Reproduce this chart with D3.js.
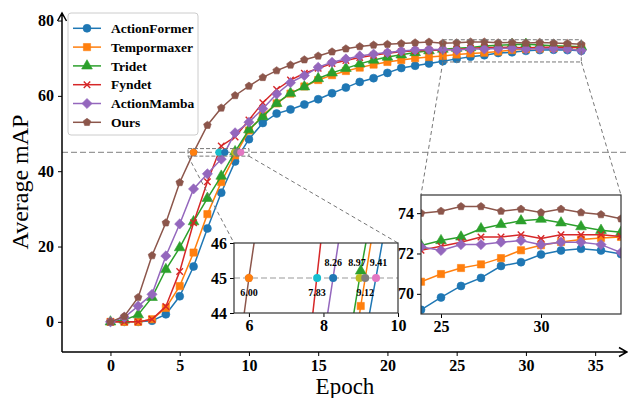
<!DOCTYPE html>
<html>
<head>
<meta charset="utf-8">
<script src="https://cdn.jsdelivr.net/npm/d3@7"></script>
<style>
  body { margin: 0; background: #fff; }
  text { font-family: "Liberation Serif", "Times New Roman", serif; }
</style>
</head>
<body>
<div id="chart"></div>
<script>
'use strict'
// data read off the picture
const epochs = [0,1,2,3,4,5,6,7,8,9,10,11,12,13,14,15,16,17,18,19,20,21,22,23,24,25,26,27,28,29,30,31,32,33,34]
const actionFormer = [0,0,0,0.3,2.0,6.8,14.7,24.8,34.3,42.6,48.5,52.8,55.3,56.4,57.7,59.1,60.7,62.2,63.7,64.7,66.1,67.4,68.0,68.6,69.21,69.82,70.39,70.79,71.38,71.57,71.95,72.15,72.23,72.15,71.97]
const tempormaxer = [0,0,0,0.7,3.7,9.5,18.4,28.6,37.1,44.2,50.8,54.8,58.0,60.6,62.5,64.2,65.5,66.6,67.5,68.3,69.0,69.5,70.0,70.3,70.6,70.98,71.28,71.46,71.77,72.16,72.41,72.57,72.69,72.77,72.82]
const tridet = [0,0.5,1.9,6.5,13.9,19.7,26.6,32.8,38.7,45.2,51.0,54.5,58.0,60.7,62.4,64.6,66.1,67.3,68.5,69.5,70.3,70.9,71.5,72.0,72.4,72.64,72.82,73.23,73.44,73.62,73.7,73.52,73.33,73.15,73.05]
const fyndet = [0,0,0,0.7,4.1,13.4,26.3,37.2,46.7,49.1,53.6,58.2,61.7,64.2,66.0,67.3,68.6,69.4,70.2,70.8,71.3,71.7,72.0,72.1,72.16,72.36,72.56,72.82,72.82,72.93,72.74,72.93,72.93,72.93,72.84]
const actionMamba = [0,1.2,4.2,7.3,17.5,26.0,35.3,39.3,43.2,50.2,53.0,56.6,60.5,63.5,65.4,67.6,68.9,69.8,70.6,71.1,71.5,71.9,72.2,72.3,72.33,72.15,72.44,72.44,72.56,72.64,72.44,72.56,72.56,72.44,72.05]
const ours = [0,1.5,6.5,17.6,26.3,37.0,45.0,52.2,56.8,60.1,62.6,64.9,66.7,68.2,69.6,70.6,71.7,72.5,73.1,73.5,73.7,73.9,74.1,74.3,74.0,74.1,74.33,74.33,74.1,74.2,74.03,74.2,74.03,73.93,73.72]

const seriesNames = ['ActionFormer', 'Tempormaxer', 'Tridet', 'Fyndet', 'ActionMamba', 'Ours']
const seriesValues = [actionFormer, tempormaxer, tridet, fyndet, actionMamba, ours]

// epochs where each curve reaches 45 mAP
const threshold = 45
const crossEpochs = [6.00, 7.83, 8.26, 8.97, 9.12, 9.41]
const crossAbove = [false, false, true, true, false, true]

const xTicks = [0, 5, 10, 15, 20, 25, 30, 35]
const yTicks = [0, 20, 40, 60, 80]
const zoom1 = {x: [5.6, 10.0], y: [44, 46], xTicks: [6, 8, 10], yTicks: [44, 45, 46]}
const zoom2 = {x: [24, 34], y: [69, 74.9], xTicks: [25, 30], yTicks: [70, 72, 74]}

/*
  styles
*/
const colors = ['#1f77b4', '#ff7f0e', '#2ca02c', '#d62728', '#9467bd', '#8c564b']
const markers = ['circle', 'square', 'triangle', 'x', 'diamond', 'pentagon']
const crossColors = ['#ff7f0e', '#17becf', '#1f77b4', '#bcbd22', '#7f7f7f', '#e377c2']
// nudges so the two crowded labels do not collide
const labelNudge = [0, 0, 0, -2.5, 0, 2.5]

let width = 628
let height = 398

const diamondSym = {
  draw(c, size) {
    const r = Math.sqrt(size / 2)
    c.moveTo(0, -r); c.lineTo(r, 0); c.lineTo(0, r); c.lineTo(-r, 0); c.closePath()
  }
}
const pentagonSym = {
  draw(c, size) {
    const r = Math.sqrt(size / 2.378)
    for (let i = 0; i < 5; ++i) {
      const a = -Math.PI / 2 + i * 2 * Math.PI / 5
      if (i == 0) c.moveTo(r * Math.cos(a), r * Math.sin(a))
      else c.lineTo(r * Math.cos(a), r * Math.sin(a))
    }
    c.closePath()
  }
}
const crossSym = {
  draw(c, size) {
    const r = Math.sqrt(size) / 2
    c.moveTo(-r, -r); c.lineTo(r, r); c.moveTo(r, -r); c.lineTo(-r, r)
  }
}
function markerPath(kind) {
  if (kind == 'circle') return d3.symbol().type(d3.symbolCircle).size(50)()
  if (kind == 'square') return d3.symbol().type(d3.symbolSquare).size(52)()
  if (kind == 'triangle') return d3.symbol().type(d3.symbolTriangle).size(50)()
  if (kind == 'x') return d3.symbol().type(crossSym).size(42)()
  if (kind == 'diamond') return d3.symbol().type(diamondSym).size(52)()
  return d3.symbol().type(pentagonSym).size(38)()
}

const svg = d3.select('#chart').append('svg')
  .attr('width', width)
  .attr('height', height)

const x = d3.scaleLinear().domain([-3.5, 37.3]).range([62, 627])
const y = d3.scaleLinear().domain([-8, 82]).range([352, 13])

function drawSeries(g, sx, sy) {
  seriesValues.forEach((vals, i) => {
    const pts = epochs.map((e, j) => [e, vals[j]])
    g.append('path')
      .attr('d', d3.line().x(d => sx(d[0])).y(d => sy(d[1]))(pts))
      .attr('fill', 'none')
      .attr('stroke', colors[i])
      .attr('stroke-width', 1.5)
    const isX = markers[i] == 'x'
    g.selectAll(null)
      .data(pts)
      .enter()
      .append('path')
      .attr('d', markerPath(markers[i]))
      .attr('transform', d => 'translate(' + sx(d[0]) + ',' + sy(d[1]) + ')')
      .attr('fill', isX ? 'none' : colors[i])
      .attr('stroke', colors[i])
      .attr('stroke-width', isX ? 1.4 : 0.6)
  })
}

function drawCrossDots(g, sx, sy, r) {
  g.selectAll(null)
    .data(crossEpochs)
    .enter()
    .append('circle')
    .attr('cx', d => sx(d))
    .attr('cy', sy(threshold))
    .attr('r', r)
    .attr('fill', (d, i) => crossColors[i])
}

function styleTicks(a, size) {
  a.select('.domain').remove()
  a.selectAll('line').attr('stroke', '#000').attr('stroke-width', 1)
  a.selectAll('text')
    .attr('font-family', '"Liberation Serif", serif')
    .attr('font-weight', 'bold')
    .attr('font-size', size)
    .attr('fill', '#000')
}

// main curves
const main = svg.append('g')
drawSeries(main, x, y)

main.append('line')
  .attr('x1', 62).attr('x2', 627)
  .attr('y1', y(threshold)).attr('y2', y(threshold))
  .attr('stroke', '#999')
  .attr('stroke-width', 1.2)
  .attr('stroke-dasharray', '6,3')
drawCrossDots(main, x, y, 3.6)

// axes
const yAxis = svg.append('g')
  .attr('transform', 'translate(62,0)')
  .call(d3.axisLeft(y).tickValues(yTicks).tickSize(4).tickPadding(4).tickSizeOuter(0))
const xAxis = svg.append('g')
  .attr('transform', 'translate(0,352)')
  .call(d3.axisBottom(x).tickValues(xTicks).tickSize(4).tickPadding(4).tickSizeOuter(0))
styleTicks(xAxis, 16)
styleTicks(yAxis, 16)

// spines with arrow heads
svg.append('path')
  .attr('d', 'M62,352V13M57.5,21L62,13L66.5,21')
  .attr('fill', 'none').attr('stroke', '#000').attr('stroke-width', 1.5)
svg.append('path')
  .attr('d', 'M62,352H627M619,347.5L627,352L619,356.5')
  .attr('fill', 'none').attr('stroke', '#000').attr('stroke-width', 1.5)

svg.append('text')
  .attr('x', 345).attr('y', 394)
  .attr('text-anchor', 'middle')
  .attr('font-size', 23)
  .text('Epoch')
svg.append('text')
  .attr('transform', 'translate(28,182)rotate(-90)')
  .attr('text-anchor', 'middle')
  .attr('font-size', 24)
  .text('Average mAP')

/*
  zoomed insets
*/
function drawInset(cfg, box, id) {
  const ix = d3.scaleLinear().domain(cfg.x).range([box.x0, box.x1])
  const iy = d3.scaleLinear().domain(cfg.y).range([box.y1, box.y0])

  // marked region in the main plot and connectors
  const rx0 = x(cfg.x[0]), rx1 = x(cfg.x[1]), ry0 = y(cfg.y[1]), ry1 = y(cfg.y[0])
  svg.append('rect')
    .attr('x', rx0).attr('y', ry0)
    .attr('width', rx1 - rx0).attr('height', ry1 - ry0)
    .attr('fill', 'none').attr('stroke', '#777')
    .attr('stroke-width', 1).attr('stroke-dasharray', '4,2')
  svg.append('path')
    .attr('d', 'M' + rx0 + ',' + ry1 + 'L' + box.x0 + ',' + box.y0 +
               'M' + rx1 + ',' + ry1 + 'L' + box.x1 + ',' + box.y0)
    .attr('fill', 'none').attr('stroke', '#777')
    .attr('stroke-width', 1).attr('stroke-dasharray', '4,3')

  const g = svg.append('g')
  g.append('rect')
    .attr('x', box.x0).attr('y', box.y0)
    .attr('width', box.x1 - box.x0).attr('height', box.y1 - box.y0)
    .attr('fill', '#fff')
  g.append('clipPath').attr('id', id)
    .append('rect')
    .attr('x', box.x0).attr('y', box.y0)
    .attr('width', box.x1 - box.x0).attr('height', box.y1 - box.y0)
  const inner = g.append('g').attr('clip-path', 'url(#' + id + ')')
  drawSeries(inner, ix, iy)

  const ax = g.append('g')
    .attr('transform', 'translate(0,' + box.y1 + ')')
    .call(d3.axisBottom(ix).tickValues(cfg.xTicks).tickFormat(d3.format('d'))
      .tickSize(4).tickPadding(3).tickSizeOuter(0))
  const ay = g.append('g')
    .attr('transform', 'translate(' + box.x0 + ',0)')
    .call(d3.axisLeft(iy).tickValues(cfg.yTicks).tickFormat(d3.format('d'))
      .tickSize(4).tickPadding(3).tickSizeOuter(0))
  styleTicks(ax, 16)
  styleTicks(ay, 16)
  g.append('rect')
    .attr('x', box.x0).attr('y', box.y0)
    .attr('width', box.x1 - box.x0).attr('height', box.y1 - box.y0)
    .attr('fill', 'none').attr('stroke', '#333').attr('stroke-width', 1.2)
  return {g: g, inner: inner, ix: ix, iy: iy}
}

const in1 = drawInset(zoom1, {x0: 234, x1: 398, y0: 243, y1: 313}, 'clipA')
in1.inner.append('line')
  .attr('x1', 234).attr('x2', 398)
  .attr('y1', in1.iy(threshold)).attr('y2', in1.iy(threshold))
  .attr('stroke', '#999').attr('stroke-width', 1.2).attr('stroke-dasharray', '6,3')
drawCrossDots(in1.inner, in1.ix, in1.iy, 4)
in1.g.selectAll('.cross-label')
  .data(crossEpochs)
  .enter()
  .append('text')
  .attr('class', 'cross-label')
  .attr('x', (d, i) => in1.ix(d) + labelNudge[i])
  .attr('y', (d, i) => in1.iy(threshold) + (crossAbove[i] ? -12 : 18))
  .attr('text-anchor', 'middle')
  .attr('font-weight', 'bold')
  .attr('font-size', 10)
  .text(d => d.toFixed(2))

drawInset(zoom2, {x0: 421, x1: 621, y0: 195, y1: 314}, 'clipB')

/*
  legend
*/
svg.append('rect')
  .attr('x', 68).attr('y', 13)
  .attr('width', 130).attr('height', 122)
  .attr('rx', 3)
  .attr('fill', '#fff').attr('fill-opacity', 0.85)
  .attr('stroke', '#ccc')
let legend = svg.selectAll('.legend')
  .data(seriesNames)
  .enter()
  .append('g')
  .attr('class', 'legend')
  .attr('transform', (d, i) => 'translate(0,' + (28.3 + i * 18.8) + ')')
legend.append('line')
  .attr('x1', 73).attr('x2', 101)
  .attr('stroke', (d, i) => colors[i])
  .attr('stroke-width', 1.5)
legend.append('path')
  .attr('d', (d, i) => markerPath(markers[i]))
  .attr('transform', 'translate(87,0)')
  .attr('fill', (d, i) => markers[i] == 'x' ? 'none' : colors[i])
  .attr('stroke', (d, i) => colors[i])
  .attr('stroke-width', (d, i) => markers[i] == 'x' ? 1.4 : 0.6)
legend.append('text')
  .attr('x', 111)
  .attr('dy', '0.35em')
  .attr('font-weight', 'bold')
  .attr('font-size', 13.5)
  .text(d => d)
</script>
</body>
</html>
